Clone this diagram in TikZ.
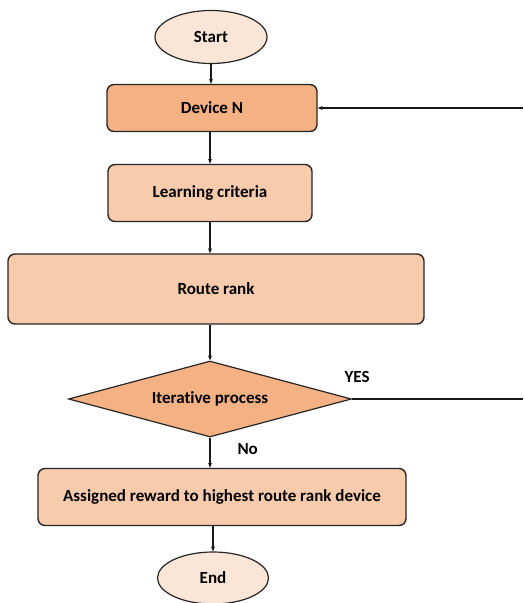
\documentclass[tikz,border=0pt]{standalone}
\usepackage{fontspec}
\setmainfont[Ligatures=NoCommon]{Carlito}
\usetikzlibrary{shapes.geometric,arrows.meta}
\definecolor{or40}{HTML}{F4B183}
\definecolor{or60}{HTML}{F8CBAD}
\definecolor{or80}{HTML}{FBE5D6}
\begin{document}
\begin{tikzpicture}[x=1pt,y=-1pt,
  every node/.style={font=\bfseries\fontsize{17}{20}\selectfont},
  box/.style={draw=black!85,line width=1.4pt,rounded corners=7pt,inner sep=0pt},
  term/.style={draw=black!85,line width=1.2pt,ellipse,fill=or80,inner sep=0pt},
  arr/.style={-{Stealth[length=5pt,width=4pt]},line width=1.2pt,black!90},
  ln/.style={line width=1.2pt,black!90}]
\useasboundingbox (0,0) rectangle (523,603);
\node[term,minimum width=112pt,minimum height=53pt] (start) at (211,37) {Start};
\node[box,fill=or40,minimum width=210pt,minimum height=47pt] (dev) at (212,108) {Device N};
\node[box,fill=or60,minimum width=204pt,minimum height=57pt] (learn) at (210,193) {Learning criteria};
\node[box,fill=or60,minimum width=416pt,minimum height=70pt] (route) at (216,289) {Route rank};
\node[draw=black!85,line width=1.2pt,diamond,fill=or40,inner sep=0pt,minimum width=283pt,minimum height=76pt,aspect=3.7] (iter) at (210,399) {Iterative process};
\node[box,fill=or60,minimum width=368pt,minimum height=57pt] (assign) at (222,497) {Assigned reward to highest route rank device};
\node[term,minimum width=111pt,minimum height=52pt] (end) at (213,578) {End};
\coordinate (rt) at (523,399);
\coordinate (rd) at (523,108);
\node[anchor=west] (yes) at (341,377) {YES};
\node[anchor=west] (no) at (234,449) {No};
\draw[arr] (start) -- (start|-dev.north);
\draw[arr] (dev.south-|learn.north) -- (learn);
\draw[arr] (learn) -- (learn|-route.north);
\draw[arr] (route.south-|iter.north) -- (iter);
\draw[arr] (iter) -- (iter|-assign.north);
\draw[arr] (end|-assign.south) -- (end);
\draw[ln] (iter.east) -- (rt);
\draw[arr] (rd) -- (dev.east);
\end{tikzpicture}
\end{document}
